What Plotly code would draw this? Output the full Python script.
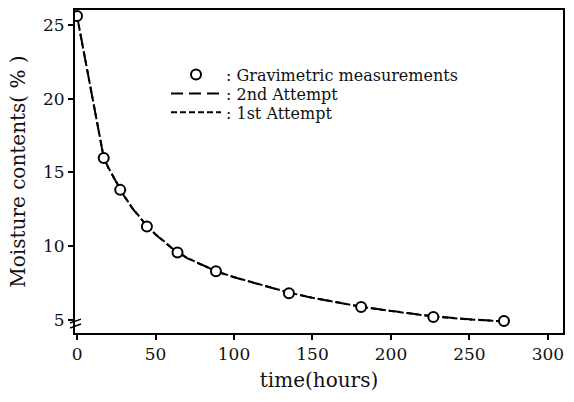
import plotly.graph_objects as go

# Measured (gravimetric) points
time_meas = [0, 17, 27.5, 44.5, 64, 88.5, 135, 181, 227, 272]
moist_meas = [25.6, 15.98, 13.82, 11.33, 9.58, 8.30, 6.82, 5.88, 5.20, 4.93]

# 2nd attempt curve (long dashes)
time_2nd = [0, 5, 10, 15, 17, 20, 25, 30, 35, 40, 45, 50, 60, 70, 80, 90, 100, 120, 135, 150, 165, 181, 200, 227, 250, 272]
moist_2nd = [25.6, 22.8, 19.95, 17.1, 16.0, 15.3, 14.3, 13.4, 12.6, 11.95, 11.3, 10.8, 9.9, 9.2, 8.7, 8.25, 7.9, 7.3, 6.85, 6.5, 6.2, 5.9, 5.62, 5.25, 5.05, 4.9]

# 1st attempt curve (short dashes)
time_1st = [0, 5, 10, 15, 17, 20, 25, 30, 35, 40, 45, 50, 60, 70, 80, 90, 100, 120, 135, 150, 165, 181, 200, 227, 250, 272]
moist_1st = [25.6, 22.8, 19.95, 17.08, 16.02, 15.32, 14.32, 13.42, 12.62, 11.97, 11.32, 10.82, 9.92, 9.22, 8.71, 8.26, 7.91, 7.31, 6.86, 6.51, 6.2, 5.9, 5.61, 5.24, 5.04, 4.9]

x_ticks = [0, 50, 100, 150, 200, 250, 300]
y_ticks = [5, 10, 15, 20, 25]

FONT = "DejaVu Serif"

L, R, T, B = 75, 11, 8, 69
W, H = 574, 402
pw, ph = W - L - R, H - T - B

def px(xp, yp):
    return (xp - L) / pw, 1 - (yp - T) / ph

fig = go.Figure()
fig.add_trace(go.Scatter(
    x=time_2nd, y=moist_2nd, mode="lines", name=": 2nd Attempt", legend="legend2",
    line=dict(color="black", width=2, dash="12px,6px"),
))
fig.add_trace(go.Scatter(
    x=time_1st, y=moist_1st, mode="lines", name=": 1st Attempt", legend="legend3",
    line=dict(color="black", width=2, dash="6px,3px"),
))
fig.add_trace(go.Scatter(
    x=time_meas, y=moist_meas, mode="markers", name=": Gravimetric measurements", legend="legend",
    marker=dict(symbol="circle", size=10, color="white", line=dict(color="black", width=2)),
))

# axis break marks
for yoff in (0, 5):
    x0, y0 = px(70, 323 + yoff)
    x1, y1 = px(81, 319 + yoff)
    fig.add_shape(type="line", xref="paper", yref="paper", x0=x0, y0=y0, x1=x1, y1=y1,
                  line=dict(color="black", width=1.5))

def leg(yc):
    return dict(x=px(166, 0)[0], y=px(0, yc)[1], xanchor="left", yanchor="middle",
                bgcolor="rgba(0,0,0,0)", font=dict(size=16, family=FONT, color="#111"),
                itemwidth=50)

fig.update_layout(
    width=W, height=H,
    margin=dict(l=L, r=R, t=T, b=B),
    paper_bgcolor="white", plot_bgcolor="white",
    font=dict(family=FONT, color="#111", size=16),
    showlegend=True,
    legend=leg(73), legend2=leg(92), legend3=leg(111),
    xaxis=dict(
        range=[-1.3, 309.6], tickvals=x_ticks, ticktext=[str(v) for v in x_ticks],
        showline=True, linecolor="black", linewidth=2, mirror=True,
        ticks="outside", ticklen=5, tickwidth=1.5, tickcolor="black",
        showgrid=False, zeroline=False, tickfont=dict(size=17),
        title=dict(text="time(hours)", font=dict(size=20), standoff=10),
    ),
    yaxis=dict(
        range=[4.12, 26.01], tickvals=y_ticks, ticktext=[str(v) for v in y_ticks],
        showline=True, linecolor="black", linewidth=2, mirror=True,
        ticks="outside", ticklen=5, tickwidth=1.5, tickcolor="black",
        showgrid=False, zeroline=False, tickfont=dict(size=17),
        title=dict(text="Moisture contents( % )", font=dict(size=20), standoff=12),
    ),
)

fig.write_html("out.html")
